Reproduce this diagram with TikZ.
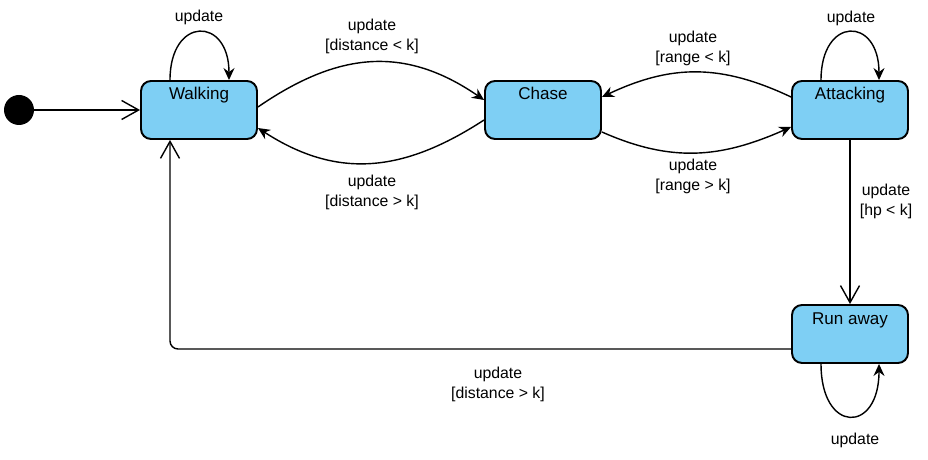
\documentclass[tikz,border=0pt]{standalone}
\usepackage{fontspec}
\setmainfont{Liberation Sans}
\usetikzlibrary{arrows.meta,calc}
\definecolor{statefill}{RGB}{126,207,244}

\begin{document}
\begin{tikzpicture}[x=0.02cm,y=0.02cm,
  state/.style={draw,line width=1.1pt,rounded corners=0.2cm,fill=statefill,
    minimum width=2.32cm,minimum height=1.16cm,inner xsep=0pt,inner ysep=0.1cm,
    text height=0.28cm,text depth=0.68cm,font=\fontsize{9.7}{11.6}\selectfont},
  lbl/.style={align=center,inner sep=0pt,font=\fontsize{9}{11.3}\selectfont},
  edge/.style={line width=0.8pt,-{Stealth[length=2.4mm,width=2.2mm,inset=0.8mm]}},
  openedge/.style={line width=0.8pt,-{Straight Barb[length=3.4mm,width=3.8mm]}}]
\useasboundingbox (0,0) rectangle (928,459);
\node[circle,fill=black,minimum size=0.6cm,inner sep=0pt] (init) at (19,349) {};
\node[state] (walk) at (199,349) {Walking};
\node[state] (chase) at (543,349) {Chase};
\node[state] (att) at (850,349) {Attacking};
\node[state] (run) at (850,125) {Run away};
% transitions
\draw[openedge] (init) -- (walk);
\draw[edge] ($(walk.north)+(-29,0)$) .. controls +(0,64) and +(0,64) .. ($(walk.north)+(30,0)$);
\draw[edge] ($(walk.east)+(0,3)$) .. controls +(80,55) and +(-80,55) .. ($(chase.west)+(0,10)$);
\draw[edge] ($(chase.west)+(0,-10)$) .. controls +(-80,-52) and +(80,-52) .. ($(walk.east)+(0,-18)$);
\draw[edge] ($(att.west)+(0,13)$) .. controls +(-70,33) and +(70,33) .. ($(chase.east)+(0,13)$);
\draw[edge] ($(chase.east)+(0,-22)$) .. controls +(70,-31) and +(-70,-31) .. ($(att.west)+(0,-17)$);
\draw[edge] ($(att.north)+(-29,0)$) .. controls +(0,64) and +(0,64) .. ($(att.north)+(29,0)$);
\draw[openedge] (att) -- (run);
\draw[edge] ($(run.south)+(-29,0)$) .. controls +(0,-70) and +(0,-70) .. ($(run.south)+(29,0)$);
\draw[openedge,rounded corners=0.16cm] ($(run.west)+(0,-15)$) -| ($(walk.south)+(-29,0)$);
% labels
\node[lbl] (lwloop) at (199,442) {update};
\node[lbl] (lwc) at (372,423) {update\\{}[distance < k]};
\node[lbl] (lcw) at (372,267) {update\\{}[distance > k]};
\node[lbl] (lac) at (693,411) {update\\{}[range < k]};
\node[lbl] (lca) at (693,283) {update\\{}[range > k]};
\node[lbl] (laloop) at (851,441) {update};
\node[lbl] (lar) at (886,258) {update\\{}[hp < k]};
\node[lbl] (lrw) at (498,75) {update\\{}[distance > k]};
\node[lbl] (lrloop) at (855,19) {update};
\end{tikzpicture}
\end{document}
